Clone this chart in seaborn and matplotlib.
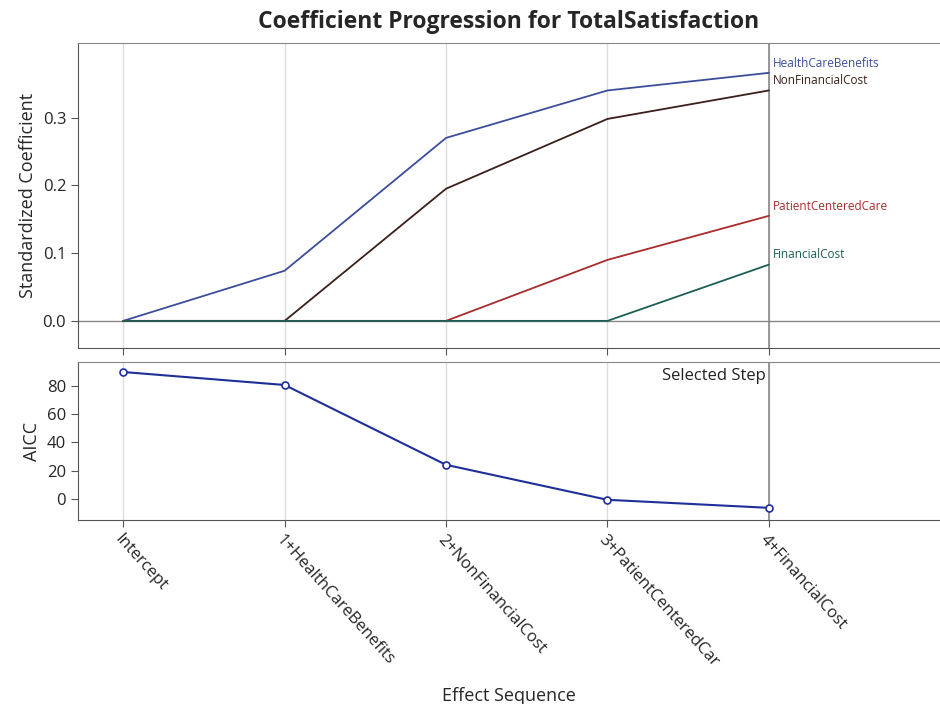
import matplotlib
matplotlib.use("Agg")
import matplotlib.pyplot as plt
import pandas as pd
import seaborn as sns

# Data
steps = ["Intercept", "1+HealthCareBenefits", "2+NonFinancialCost",
         "3+PatientCenteredCar", "4+FinancialCost"]
health_care_benefits = [0.0, 0.074, 0.270, 0.340, 0.366]
non_financial_cost = [0.0, 0.0, 0.195, 0.298, 0.340]
patient_centered_care = [0.0, 0.0, 0.0, 0.090, 0.155]
financial_cost = [0.0, 0.0, 0.0, 0.0, 0.083]
aicc = [89.9, 80.7, 24.1, -0.7, -6.4]
selected_step = 4

sns.set_style("white")
plt.rcParams['font.family'] = ['Open Sans', 'DejaVu Sans']

series = {
    "HealthCareBenefits": health_care_benefits,
    "NonFinancialCost": non_financial_cost,
    "PatientCenteredCare": patient_centered_care,
    "FinancialCost": financial_cost,
}
colors = {
    "HealthCareBenefits": "#3b4e9c",
    "NonFinancialCost": "#3a1f1a",
    "PatientCenteredCare": "#a82c2c",
    "FinancialCost": "#1d5f55",
}

rows = []
for name, vals in series.items():
    for i, v in enumerate(vals):
        rows.append({"step": i, "coef": v, "effect": name})
coef_df = pd.DataFrame(rows)
aicc_df = pd.DataFrame({"step": range(len(steps)), "aicc": aicc})

fig = plt.figure(figsize=(9.4, 7.04), dpi=100)
ax1 = fig.add_axes([0.083, 0.5057, 0.917, 0.4332])
ax2 = fig.add_axes([0.083, 0.2614, 0.917, 0.2244], sharex=ax1)

spine_col = "#555555"
for ax in (ax1, ax2):
    for i in range(len(steps)):
        ax.axvline(i, color="#dddddd", lw=1, zorder=0)
    ax.axvline(selected_step, color="#888888", lw=1.2, zorder=1)
    ax.spines["right"].set_visible(False)
    ax.spines["top"].set_color("#888888")
    ax.spines["left"].set_color(spine_col)
    ax.spines["bottom"].set_color(spine_col)
    ax.tick_params(axis="both", which="both", length=5, color=spine_col,
                   labelsize=12, direction="out", bottom=True, left=True)

# Coefficient panel
ax1.axhline(0, color="#888888", lw=1, zorder=1)
sns.lineplot(data=coef_df, x="step", y="coef", hue="effect", palette=colors,
             ax=ax1, legend=False, lw=1.3, zorder=3)
for name, vals in series.items():
    ax1.annotate(name, (selected_step, vals[-1]), xytext=(3, 7),
                 textcoords="offset points", fontsize=8.5, color=colors[name],
                 ha="left", va="center")
ax1.set_ylim(-0.04, 0.41)
ax1.set_yticks([0.0, 0.1, 0.2, 0.3])
ax1.set_yticklabels(["0.0", "0.1", "0.2", "0.3"])
ax1.set_ylabel("Standardized Coefficient", fontsize=13)
ax1.set_xlabel("")
ax1.tick_params(axis="x", labelbottom=False)
ax1.set_title("Coefficient Progression for TotalSatisfaction",
              fontsize=16.5, fontweight="bold", pad=11)

# AICC panel
sns.lineplot(data=aicc_df, x="step", y="aicc", ax=ax2, color="#1f2f99",
             lw=1.5, marker="o", markersize=5, markerfacecolor="white",
             markeredgecolor="#1f2f99", markeredgewidth=1.2, zorder=3)
ax2.text(selected_step - 0.02, 87, "Selected Step", ha="right", va="center",
         fontsize=12, color="#222222")
ax2.set_ylim(-15, 97)
ax2.set_yticks([0, 20, 40, 60, 80])
ax2.set_ylabel("AICC", fontsize=13)
ax2.set_xlim(-0.28, 5.06)
ax2.set_xticks(range(len(steps)))
ax2.set_xticklabels(steps, rotation=-48, ha="left", rotation_mode="anchor",
                    fontsize=12)
ax2.set_xlabel("Effect Sequence", fontsize=13, labelpad=12)

fig.savefig("out.png", dpi=100)
